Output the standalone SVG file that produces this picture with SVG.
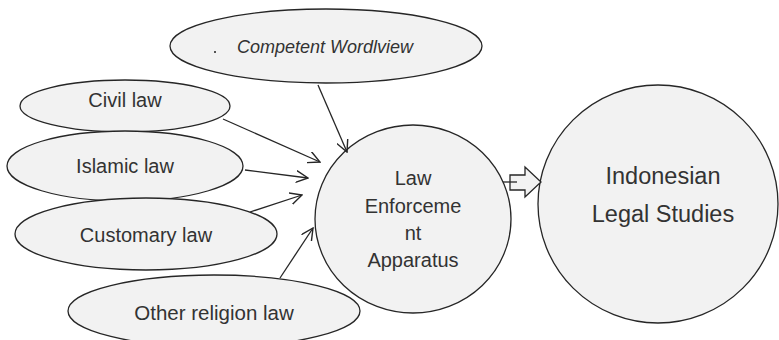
<svg xmlns="http://www.w3.org/2000/svg" width="779" height="340" viewBox="0 0 779 340">
<defs>
<marker id="arr" viewBox="0 0 12 12" refX="11" refY="6" markerWidth="13" markerHeight="13" markerUnits="userSpaceOnUse" orient="auto">
<path d="M0,0.5 L11,6 L0,11.5" fill="none" stroke="#262626" stroke-width="1.3"/>
</marker>
<style>
.n{fill:#f2f2f2;stroke:#262626;stroke-width:1.3}
.t{font-family:"Liberation Sans",Arial,sans-serif;fill:#333333;text-anchor:middle}
.c{stroke:#262626;stroke-width:1.3;fill:none}
</style>
</defs>
<rect width="779" height="340" fill="#ffffff"/>
<g id="n-competent">
<ellipse class="n" cx="326" cy="46" rx="156" ry="37"/>
<rect x="214" y="51" width="2" height="2" fill="#555"/>
<text class="t" x="325" y="53" font-size="18" font-style="italic">Competent Wordlview</text>
</g>
<g id="n-civil">
<ellipse class="n" cx="125" cy="106" rx="105" ry="26"/>
<text class="t" x="125" y="107" font-size="20">Civil law</text>
</g>
<g id="n-islamic">
<ellipse class="n" cx="125" cy="166" rx="118" ry="35"/>
<text class="t" x="125" y="173" font-size="20">Islamic law</text>
</g>
<g id="n-customary">
<ellipse class="n" cx="146" cy="234" rx="131" ry="36"/>
<text class="t" x="146" y="242" font-size="20">Customary law</text>
</g>
<g id="n-other">
<ellipse class="n" cx="214" cy="311" rx="146" ry="36"/>
<text class="t" x="214" y="320" font-size="20.5">Other religion law</text>
</g>
<g id="n-law">
<ellipse class="n" cx="413" cy="219" rx="98" ry="94"/>
<text class="t" x="413" y="185" font-size="20">Law</text>
<text class="t" x="413" y="213" font-size="20">Enforceme</text>
<text class="t" x="413" y="240" font-size="20">nt</text>
<text class="t" x="413" y="267" font-size="20">Apparatus</text>
</g>
<g id="n-indonesian">
<ellipse class="n" cx="658" cy="204" rx="120" ry="119"/>
<text class="t" x="663" y="184" font-size="23.5">Indonesian</text>
<text class="t" x="663" y="222" font-size="23.5">Legal Studies</text>
</g>
<g id="connectors">
<line class="c" x1="318" y1="85" x2="347" y2="152" marker-end="url(#arr)"/>
<line class="c" x1="223" y1="119" x2="320" y2="162" marker-end="url(#arr)"/>
<line class="c" x1="245" y1="170" x2="308" y2="178" marker-end="url(#arr)"/>
<line class="c" x1="250" y1="212" x2="302" y2="195" marker-end="url(#arr)"/>
<line class="c" x1="280" y1="278" x2="313" y2="228" marker-end="url(#arr)"/>
<path class="n" d="M510,175 L525,175 L525,167 L541,182 L525,197 L525,190 L510,190 Z"/>
<line class="c" x1="503" y1="182" x2="517" y2="182"/>
</g>
</svg>
